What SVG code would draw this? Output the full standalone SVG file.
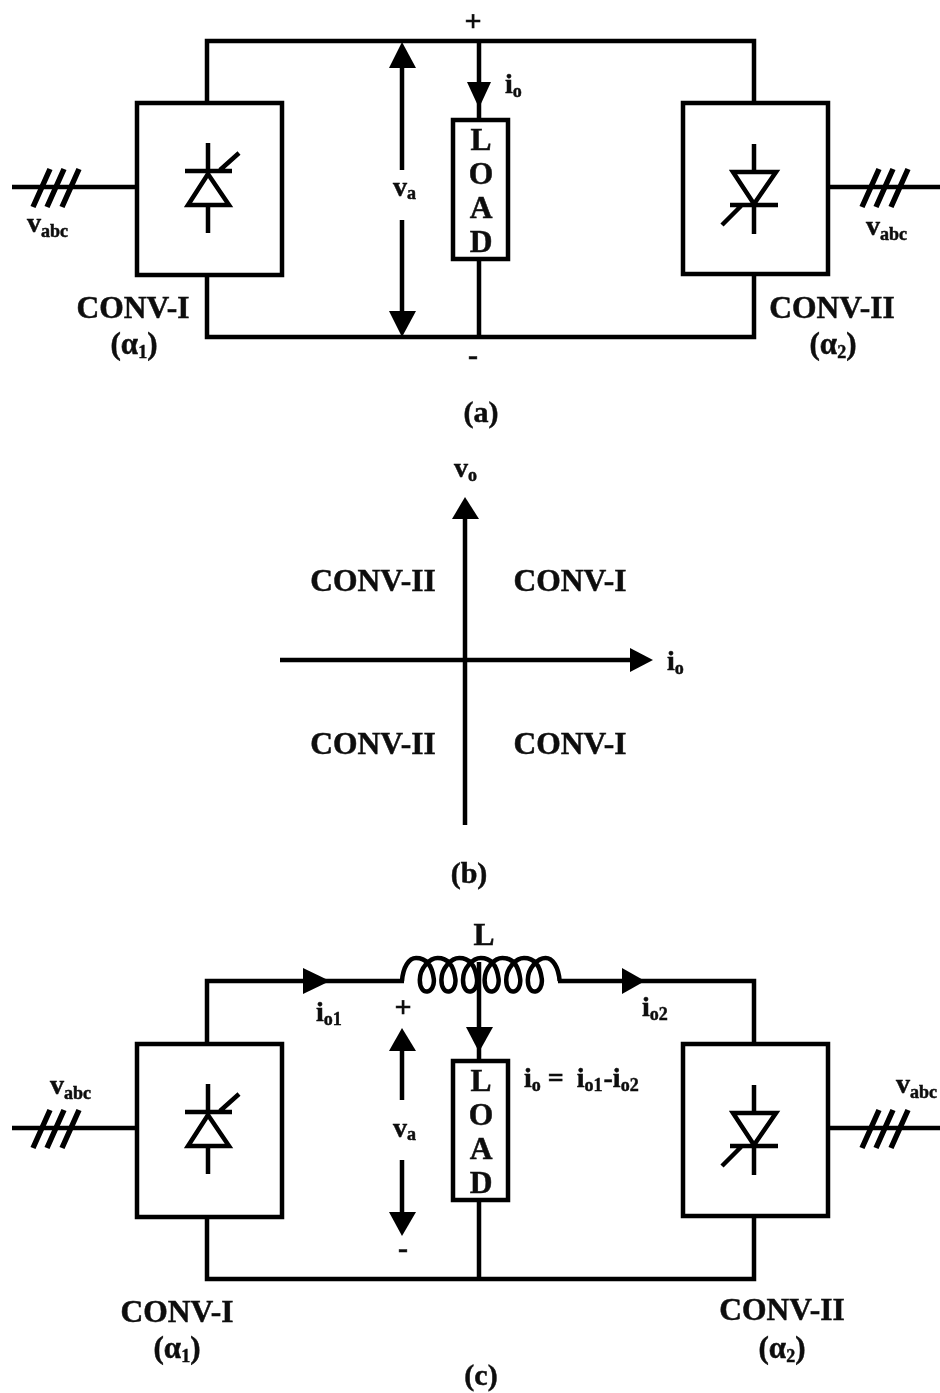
<svg xmlns="http://www.w3.org/2000/svg" width="940" height="1393" viewBox="0 0 940 1393">
<style>
text{font-family:"Liberation Serif","Times New Roman",serif;font-weight:bold;fill:#111;stroke:#111;stroke-width:.5px}
.c{font-size:31.500px;text-anchor:middle}
.p{font-size:31px;text-anchor:middle}
.q{font-size:30px;text-anchor:middle}
.v{font-size:28px}
.s{font-size:18px}
.w{fill:none;stroke:#000;stroke-width:4.5;stroke-linecap:butt;stroke-linejoin:miter}
.box{fill:#fff;stroke:#000;stroke-width:4.5}
.h{fill:#000;stroke:none}
</style>
<defs>
<filter id="soft" x="0" y="0" width="100%" height="100%"><feGaussianBlur stdDeviation="0.55"/></filter>
<g id="slashes" class="w"><path d="M33 207L50 169M47 207L64 169M62 207L79 169" stroke-width="5.500"/></g>
<g id="thyL" class="w"><path d="M208 143V174M208 205V233M185 171H232M220 170L239 153M208 174L188 205H229Z"/></g>
<g id="thyR" class="w"><path d="M754 144V172M754 205V234M730 205H778M722 225L741 206M733 172H776L754 204Z"/></g>
</defs>
<rect width="940" height="1393" fill="#fff"/>
<g filter="url(#soft)">
<g id="connectors-a" class="w">
<path d="M207 103V41H754V103"/>
<path d="M207 275V337H754V274"/>
<path d="M479 41V120M479 259V337"/>
<path d="M12 187H137M828 187H940"/>
<path d="M402 60V170M402 220V315"/>
<use href="#slashes"/>
<use href="#slashes" x="829"/>
</g>
<g id="arrows-a" class="h">
<path d="M479 108L467 82H491Z"/>
<path d="M402 42L389 68H416Z"/>
<path d="M402 337L389 311H416Z"/>
</g>
<g id="conv1-a"><rect class="box" x="137" y="103" width="145" height="172"/><use href="#thyL"/></g>
<g id="conv2-a"><rect class="box" x="683" y="103" width="145" height="171"/><use href="#thyR"/></g>
<g id="load-a"><rect class="box" x="453" y="120" width="55" height="139"/>
<text class="c" x="481" y="150">L</text><text class="c" x="481" y="184">O</text><text class="c" x="481" y="218">A</text><text class="c" x="481" y="252">D</text></g>
<g id="labels-a">
<text class="q" x="473" y="31">+</text>
<text class="q" x="473" y="365">-</text>
<text x="505" y="93" class="v">i<tspan class="s" dy="4">o</tspan></text>
<text x="393" y="196" class="v">v<tspan class="s" dy="3">a</tspan></text>
<text x="27" y="232" class="v">v<tspan class="s" dy="5">abc</tspan></text>
<text x="866" y="235" class="v">v<tspan class="s" dy="5">abc</tspan></text>
<text class="c" x="133" y="318">CONV-I</text>
<text class="p" x="134" y="354">(α<tspan class="s" dy="4">1</tspan><tspan dy="-4">)</tspan></text>
<text class="c" x="832" y="318">CONV-II</text>
<text class="p" x="833" y="354">(α<tspan class="s" dy="4">2</tspan><tspan dy="-4">)</tspan></text>
<text class="q" x="481" y="422">(a)</text>
</g>

<g id="connectors-b" class="w">
<path d="M465 510V825M280 660H635"/>
</g>
<g id="arrows-b" class="h">
<path d="M465 497L452 519H479Z"/>
<path d="M653 660L630 648V672Z"/>
</g>
<g id="labels-b">
<text x="454" y="477" class="v">v<tspan class="s" dy="4">o</tspan></text>
<text x="667" y="670" class="v">i<tspan class="s" dy="4">o</tspan></text>
<text class="c" x="373" y="591">CONV-II</text>
<text class="c" x="570" y="591">CONV-I</text>
<text class="c" x="373" y="754">CONV-II</text>
<text class="c" x="570" y="754">CONV-I</text>
<text class="q" x="469" y="883">(b)</text>
</g>

<g id="connectors-c" class="w">
<path d="M207 1044V981H404M558 981H754V1044"/>
<path d="M207 1217V1279H754V1216"/>
<path d="M479 962V1061M479 1200V1279"/>
<path d="M12 1128H137M828 1128H940"/>
<path d="M402 1045V1100M402 1160V1215"/>
<use href="#slashes" y="941"/>
<use href="#slashes" x="829" y="941"/>
</g>
<g id="arrows-c" class="h">
<path d="M330 981L303 968V994Z"/>
<path d="M645 981L622 968V994Z"/>
<path d="M479 1052L466 1027H493Z"/>
<path d="M402 1028L389 1051H416Z"/>
<path d="M402 1236L389 1212H416Z"/>
</g>
<g id="inductor"><path class="w" d="M402 981c1-14 7-23 14-23c8 0 15.800 5 17.800 21c1.500 15-14 18-14 1c0-12 10-22 17.800-22c8 0 15.800 5 17.800 21c1.500 15-14 18-14 1c0-12 10-22 17.800-22c8 0 15.800 5 17.800 21c1.500 15-14 18-14 1c0-12 10-22 17.800-22c8 0 15.800 5 17.800 21c1.500 15-14 18-14 1c0-12 10-22 17.800-22c8 0 15.800 5 17.800 21c1.500 15-14 18-14 1c0-12 10-22 17.800-22c8 0 15.800 5 17.800 21c1.500 15-14 18-14 1c0-12 10-22 17.800-22c7 0 13 9 14 23"/></g>
<g id="conv1-c"><rect class="box" x="137" y="1044" width="145" height="173"/><use href="#thyL" y="941"/></g>
<g id="conv2-c"><rect class="box" x="683" y="1044" width="145" height="172"/><use href="#thyR" y="941"/></g>
<g id="load-c"><rect class="box" x="453" y="1061" width="55" height="139"/>
<text class="c" x="481" y="1091">L</text><text class="c" x="481" y="1125">O</text><text class="c" x="481" y="1159">A</text><text class="c" x="481" y="1193">D</text></g>
<g id="labels-c">
<text class="c" x="484" y="945">L</text>
<text class="q" x="403" y="1017">+</text>
<text class="q" x="403" y="1258">-</text>
<text x="316" y="1021" class="v">i<tspan class="s" dy="4">o1</tspan></text>
<text x="642" y="1016" class="v">i<tspan class="s" dy="4">o2</tspan></text>
<text x="524" y="1087" class="v">i<tspan class="s" dy="4">o</tspan><tspan dy="-4"> =</tspan><tspan dx="6"> i</tspan><tspan class="s" dy="4">o1</tspan><tspan dy="-4" dx="1">-i</tspan><tspan class="s" dy="4">o2</tspan></text>
<text x="393" y="1137" class="v">v<tspan class="s" dy="3">a</tspan></text>
<text x="50" y="1094" class="v">v<tspan class="s" dy="5">abc</tspan></text>
<text x="896" y="1093" class="v">v<tspan class="s" dy="5">abc</tspan></text>
<text class="c" x="177" y="1322">CONV-I</text>
<text class="p" x="177" y="1358">(α<tspan class="s" dy="4">1</tspan><tspan dy="-4">)</tspan></text>
<text class="c" x="782" y="1320">CONV-II</text>
<text class="p" x="782" y="1358">(α<tspan class="s" dy="4">2</tspan><tspan dy="-4">)</tspan></text>
<text class="q" x="481" y="1385">(c)</text>
</g>
</g>
</svg>
